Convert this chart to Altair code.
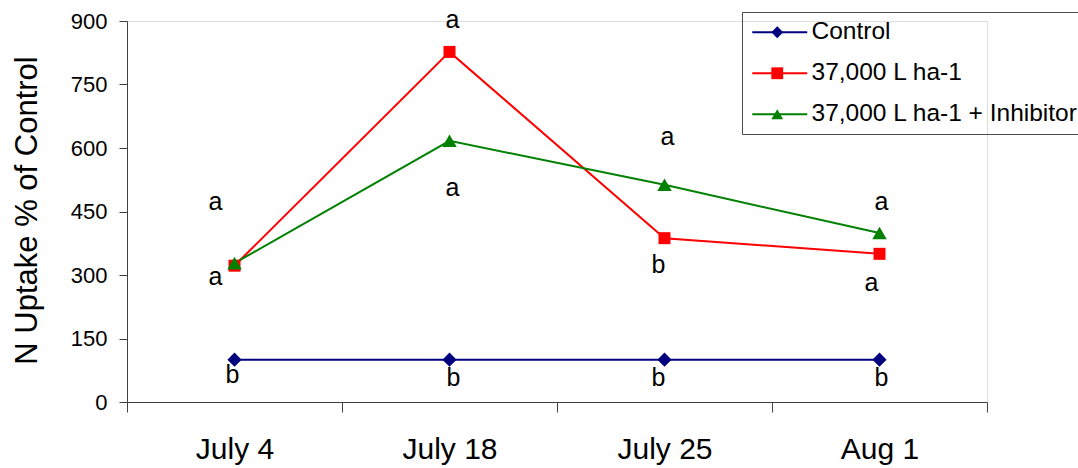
import altair as alt
import pandas as pd

# Sampling dates (categories on the x axis)
dates = ["July 4", "July 18", "July 25", "Aug 1"]

# Treatments
series_names = ["Control", "37,000 L ha-1", "37,000 L ha-1 + Inhibitor"]
series_colors = ["#000080", "#FF0000", "#008000"]
series_shapes = ["diamond", "square", "triangle-up"]
series_marker_area = [200, 144, 210]

# N uptake as % of control, per date
control = [100, 100, 100, 100]
manure = [322, 827, 387, 350]
manure_inhib = [328, 617, 513, 399]

# Significance letters: date, letter, height on the value axis, horizontal nudge (px)
letter_dates = ["July 4", "July 4", "July 4",
                "July 18", "July 18", "July 18",
                "July 25", "July 25", "July 25",
                "Aug 1", "Aug 1", "Aug 1"]
letter_text = ["a", "a", "b", "a", "a", "b", "a", "b", "b", "a", "a", "b"]
letter_y = [472, 295, 64, 902, 506, 57, 626, 324, 57, 472, 281, 57]
letter_dx = [-19, -19, -2, 3, 3, 4, 3, -6, -6, 2, -8, 2]

y_ticks = [0, 150, 300, 450, 600, 750, 900]

FONT = "Liberation Sans"
AXIS_COLOR = "#404040"

rows = []
for name, vals, area in zip(series_names, [control, manure, manure_inhib], series_marker_area):
    for d, v in zip(dates, vals):
        rows.append({"date": d, "series": name, "value": v, "area": area})
df = pd.DataFrame(rows)

letters = pd.DataFrame({
    "date": letter_dates,
    "letter": letter_text,
    "value": letter_y,
    "dx": letter_dx,
})

x_enc = alt.X(
    "date:O",
    sort=dates,
    bandPosition=0.5,
    scale=alt.Scale(type="band", domain=dates, paddingInner=0, paddingOuter=0),
    axis=alt.Axis(
        title=None,
        tickBand="extent",
        labelAngle=0,
        labelFont=FONT,
        labelFontSize=30,
        labelColor="black",
        labelPadding=22,
        tickSize=10,
        tickColor=AXIS_COLOR,
        domainColor=AXIS_COLOR,
        grid=False,
    ),
)

y_enc = alt.Y(
    "value:Q",
    scale=alt.Scale(domain=[0, 900], nice=False, zero=True),
    axis=alt.Axis(
        values=y_ticks,
        title="N Uptake % of Control",
        titleFont=FONT,
        titleFontSize=31,
        titleFontWeight="normal",
        titleColor="black",
        titleAngle=270,
        titleAlign="center",
        titleBaseline="middle",
        titleX=-100,
        titleY=189,
        labelFont=FONT,
        labelFontSize=22,
        labelColor="black",
        labelPadding=12,
        tickSize=8,
        tickColor=AXIS_COLOR,
        domainColor=AXIS_COLOR,
        grid=False,
    ),
)

# Legend geometry shared by the line-symbol legend and the marker legend
LEG_X, LEG_Y, LEG_PAD, LEG_ROWPAD, LEG_FONT = 615, -9, 8, 16, 24.5

line_legend = alt.Legend(
    title=None,
    orient="none",
    legendX=LEG_X,
    legendY=LEG_Y,
    direction="vertical",
    labelFont=FONT,
    labelFontSize=LEG_FONT,
    labelColor="black",
    labelLimit=500,
    labelOffset=37,
    symbolType="M-1,0H4.5",
    symbolSize=400,
    symbolStrokeWidth=2,
    rowPadding=LEG_ROWPAD,
    padding=LEG_PAD,
    strokeColor="#4d4d4d",
    zindex=1,
)

marker_legend = alt.Legend(
    title=None,
    orient="none",
    legendX=LEG_X,
    legendY=LEG_Y,
    direction="vertical",
    labelFont=FONT,
    labelFontSize=LEG_FONT,
    labelExpr="''",
    labelLimit=500,
    symbolSize=140,
    symbolOffset=15,
    symbolStrokeWidth=0,
    rowPadding=LEG_ROWPAD,
    padding=LEG_PAD,
    zindex=2,
)

lines = alt.Chart(df).mark_line(strokeWidth=2).encode(
    x=x_enc,
    y=y_enc,
    color=alt.Color("series:N", scale=alt.Scale(domain=series_names, range=series_colors),
                    legend=line_legend),
)

points = alt.Chart(df).mark_point(filled=True, opacity=1).encode(
    x=x_enc,
    y=y_enc,
    color=alt.Color("series:N", scale=alt.Scale(domain=series_names, range=series_colors),
                    legend=marker_legend),
    shape=alt.Shape("series:N", scale=alt.Scale(domain=series_names, range=series_shapes),
                    legend=marker_legend),
    size=alt.Size("area:Q", scale=None),
)

# One text layer per horizontal nudge
letter_layers = []
for off in sorted(set(letter_dx)):
    letter_layers.append(
        alt.Chart(letters[letters["dx"] == off])
        .mark_text(font=FONT, fontSize=25, color="black", dx=off, baseline="middle", align="center")
        .encode(x=x_enc, y=y_enc, text="letter:N")
    )

chart = (
    alt.layer(lines, points, *letter_layers)
    .resolve_scale(color="independent")
    .resolve_legend(color="independent", shape="independent")
    .properties(
        width=860,
        height=381,
        autosize=alt.AutoSizeParams(type="none"),
        padding={"left": 127, "top": 21, "right": 91, "bottom": 66},
        background="white",
    )
    .configure_view(stroke=None)
    .configure(font=FONT)
)

chart.save("out.html", embed_options={"renderer": "svg", "actions": False})
